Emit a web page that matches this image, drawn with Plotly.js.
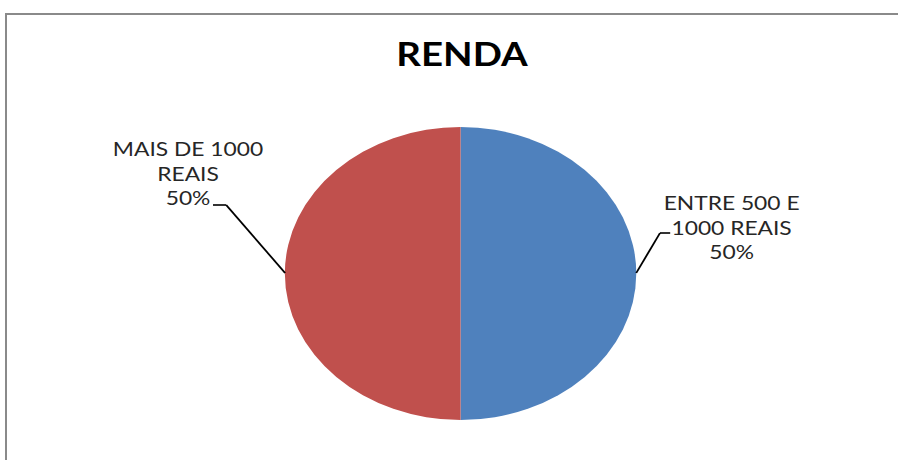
<!DOCTYPE html>
<html>
<head>
<meta charset="utf-8">
<script src="https://cdn.plot.ly/plotly-3.0.1.min.js"></script>
<style>
  html, body { margin: 0; padding: 0; background: #ffffff; overflow: hidden; }
  #wrap { width: 898px; height: 460px; overflow: hidden; position: relative; background: #ffffff; }
  /* chart frame: only the top and left edges are visible in the picture */
  #frameTop { position: absolute; left: 5px; top: 13px; width: 893px; height: 2px; background: #8a8a8a; }
  #frameLeft { position: absolute; left: 5px; top: 13px; width: 2px; height: 447px; background: #8a8a8a; }
  /* the original picture is stretched horizontally (1.2x), which also makes the pie elliptical */
  #chart { position: absolute; left: 0; top: 0; width: 748px; height: 460px; transform: scaleX(1.2); transform-origin: 0 0; }
</style>
</head>
<body>
<div id="wrap"><div id="frameTop"></div><div id="frameLeft"></div><div id="chart"></div></div>
<script>
// ---- data ----
const chartTitle = "RENDA";
const categories = ["ENTRE 500 E 1000 REAIS", "MAIS DE 1000 REAIS"];
const labelLines = ["ENTRE 500 E<br>1000 REAIS", "MAIS DE 1000<br>REAIS"];
const values = [50, 50];
const colors = ["#4F81BD", "#C0504D"];

// ---- layout helpers (unscaled px -> paper) ----
const W = 748, H = 460;
const px = x => x / W;
const py = y => 1 - y / H;
const total = values.reduce((a, b) => a + b, 0);
const pct = v => Math.round(v / total * 100) + "%";

const trace = {
  type: "pie",
  labels: categories,
  values: values,
  sort: false,
  direction: "clockwise",
  rotation: 0,
  textinfo: "none",
  hoverinfo: "none",
  showlegend: false,
  marker: { colors: colors, line: { width: 0 } },
  domain: { x: [px(237.3), px(530.3)], y: [py(420), py(127)] }
};

const labelFont = { family: "Lato, 'Open Sans', sans-serif", size: 19, color: "#262626" };

const layout = {
  width: W, height: H,
  margin: { l: 0, r: 0, t: 0, b: 0 },
  paper_bgcolor: "rgba(0,0,0,0)",
  plot_bgcolor: "rgba(0,0,0,0)",
  title: {
    text: "<b>" + chartTitle + "</b>",
    x: px(385), xanchor: "center", xref: "paper",
    y: py(55), yanchor: "middle", yref: "paper",
    font: { family: "Lato, 'Open Sans', sans-serif", size: 32, color: "#000000" }
  },
  annotations: [
    { text: labelLines[0] + "<br>" + pct(values[0]), x: px(609.6), y: py(227), xref: "paper", yref: "paper",
      xanchor: "center", yanchor: "middle", showarrow: false, font: labelFont, align: "center" },
    { text: labelLines[1] + "<br>" + pct(values[1]), x: px(156.3), y: py(173), xref: "paper", yref: "paper",
      xanchor: "center", yanchor: "middle", showarrow: false, font: labelFont, align: "center" }
  ],
  shapes: [
    // leader lines
    { type: "line", xref: "paper", yref: "paper", x0: px(177.5), x1: px(188.5), y0: py(205), y1: py(205), line: { color: "#000", width: 1.6 } },
    { type: "line", xref: "paper", yref: "paper", x0: px(188.5), x1: px(237.6), y0: py(205), y1: py(273), line: { color: "#000", width: 1.6 } },
    { type: "line", xref: "paper", yref: "paper", x0: px(558.5), x1: px(550), y0: py(233), y1: py(233), line: { color: "#000", width: 1.6 } },
    { type: "line", xref: "paper", yref: "paper", x0: px(550), x1: px(530.2), y0: py(233), y1: py(273), line: { color: "#000", width: 1.6 } }
  ]
};

Plotly.newPlot("chart", [trace], layout, { staticPlot: true, displayModeBar: false });
</script>
</body>
</html>
